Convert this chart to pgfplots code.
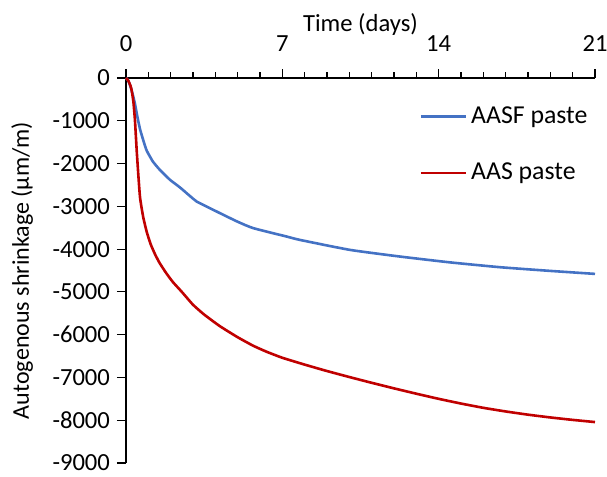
\documentclass[border=0pt]{standalone}
\usepackage{pgfplots}
\pgfplotsset{compat=1.18}
\usepackage{fontspec}
\setmainfont{Carlito}
\definecolor{cblue}{RGB}{68,114,196}
\definecolor{cred}{RGB}{192,0,0}
\begin{document}
\begin{tikzpicture}
\begin{axis}[
  scale only axis,
  width=234.5pt, height=192.5pt,
  xmin=0, xmax=21, ymin=-9000, ymax=0,
  axis x line*=top, axis y line*=left,
  axis line style={line width=0.8pt, black},
  xtick={0,7,14,21}, minor xtick={1,2,3,4,5,6,8,9,10,11,12,13,15,16,17,18,19,20},
  ytick={-9000,-8000,-7000,-6000,-5000,-4000,-3000,-2000,-1000,0},
  tick align=outside,
  major tick length=4.5pt, minor tick length=2.8pt,
  every tick/.style={black, line width=0.6pt},
  /pgf/number format/1000 sep={},
  /pgf/number format/assume math mode=true,
  yticklabel={\pgfmathprintnumber{\tick}\hspace{5pt}},
  xticklabel style={yshift=5pt},
  scaled y ticks=false,
  font=\fontsize{12}{14}\selectfont,
  tick label style={font=\fontsize{12.3}{14}\selectfont},
  xlabel={Time (days)},
  ylabel={Autogenous shrinkage (μm/m)},
  xlabel style={at={(axis description cs:0.5,1.12)}, anchor=base, font=\fontsize{12.3}{14}\selectfont},
  ylabel style={at={(axis description cs:-0.207,0.5)}, anchor=base},
  legend style={draw=none, fill=none, at={(rel axis cs:0.625,0.937)}, anchor=north west,
    inner sep=0pt, row sep=14.3pt, font=\fontsize{12.9}{15}\selectfont},
  legend cell align=left,
  legend image code/.code={\draw[#1] (0pt,0pt) -- (22.5pt,0pt);},
  clip=false,
]
\addplot[cblue, line width=1.3pt, smooth, tension=0.3] coordinates {
(0,0) (0.1,-60) (0.2,-200) (0.3,-380) (0.4,-600) (0.5,-880) (0.63,-1200)
(0.8,-1500) (0.93,-1700) (1.2,-1950) (1.52,-2150) (1.97,-2380) (2.42,-2560)
(3.0,-2820) (3.17,-2890) (4.21,-3160) (5.0,-3360) (5.7,-3510) (7.2,-3707)
(7.79,-3785) (10.03,-4018) (12.27,-4174) (14.51,-4310) (16.75,-4423)
(18.99,-4509) (21,-4579)};
\addlegendentry{AASF paste}
\addplot[cred, line width=1.3pt, smooth, tension=0.3] coordinates {
(0,0) (0.1,-60) (0.2,-180) (0.25,-280) (0.33,-550) (0.4,-981) (0.48,-1700)
(0.55,-2250) (0.63,-2800) (0.77,-3250) (0.93,-3600) (1.1,-3880) (1.3,-4120)
(1.5,-4320) (1.8,-4560) (2.1,-4770) (2.5,-5000) (3.0,-5300) (3.5,-5530)
(4.2,-5800) (5.0,-6060) (5.7,-6260) (6.3,-6400) (7,-6540) (8,-6700)
(9,-6850) (10,-6990) (11,-7125) (12,-7255) (13,-7380) (14,-7500)
(15,-7610) (16,-7710) (17,-7795) (18,-7870) (19,-7935) (20,-7992) (21,-8043)};
\addlegendentry{AAS paste}
\coordinate (SW) at (rel axis cs:0,0);
\coordinate (NE) at (rel axis cs:1,1);
\end{axis}
\pgfresetboundingbox
\path ([xshift=-63pt,yshift=-6.5pt]SW) rectangle ([xshift=6pt,yshift=39pt]NE);
\end{tikzpicture}
\end{document}
